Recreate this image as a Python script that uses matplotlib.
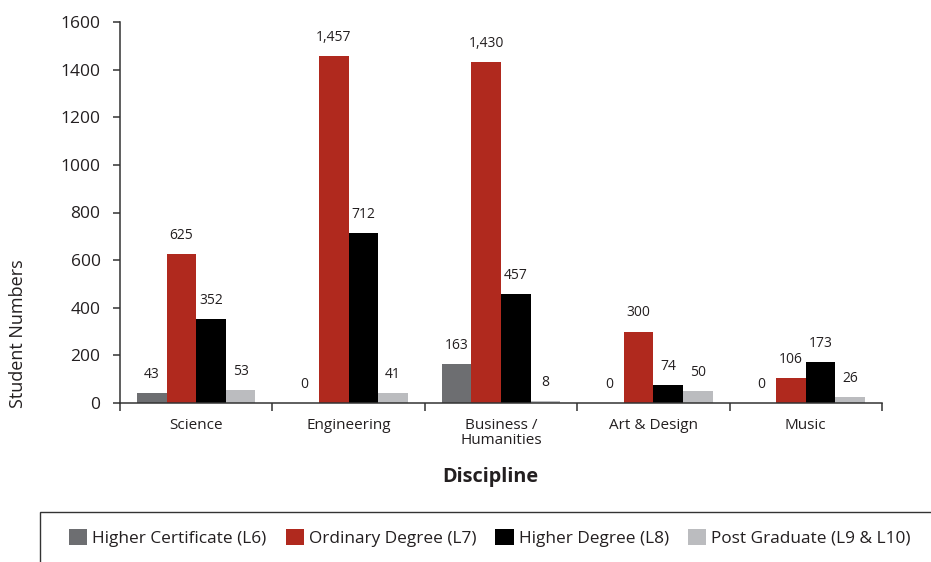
import numpy as np
import matplotlib.pyplot as plt
from matplotlib.patches import Rectangle

plt.rcParams['font.family'] = ['Open Sans', 'DejaVu Sans']

categories = ['Science', 'Engineering', 'Business /\nHumanities', 'Art & Design', 'Music']
series = ['Higher Certificate (L6)', 'Ordinary Degree (L7)', 'Higher Degree (L8)', 'Post Graduate (L9 & L10)']
higher_cert = [43, 0, 163, 0, 0]
ordinary = [625, 1457, 1430, 300, 106]
higher_deg = [352, 712, 457, 74, 173]
post_grad = [53, 41, 8, 50, 26]
colors = ['#6d6e71', '#b0291e', '#000000', '#bbbcbf']
yticks = [0, 200, 400, 600, 800, 1000, 1200, 1400, 1600]

values = [higher_cert, ordinary, higher_deg, post_grad]
axis_col = '#333333'
text_col = '#231f20'

fig = plt.figure(figsize=(9.31, 5.62), dpi=100)
W, H = 931, 562
ax = fig.add_axes([120 / W, (H - 403) / H, (882 - 120) / W, (403 - 22) / H])

x = np.arange(len(categories))
bw = 0.194
for i, (vals, col) in enumerate(zip(values, colors)):
    pos = x + (i - 1.5) * bw
    ax.bar(pos, vals, width=bw, color=col, label=series[i], zorder=2)
    for xb, v in zip(pos, vals):
        ax.annotate(f"{v:,}", (xb, v), xytext=(0, 8), textcoords='offset points',
                    ha='center', va='bottom', fontsize=10, color=text_col)

ax.set_xlim(-0.5, len(categories) - 0.5)
ax.set_ylim(0, 1600)
ax.set_yticks(yticks)
ax.set_yticklabels([str(t) for t in yticks], fontsize=12.5, color=text_col)
ax.tick_params(axis='y', direction='out', length=5, width=1.1, color=axis_col, pad=9)

ax.set_xticks(np.arange(len(categories) + 1) - 0.5)
ax.set_xticklabels([])
ax.tick_params(axis='x', which='major', direction='out', length=6, width=1.1, color=axis_col)
ax.set_xticks(x, minor=True)
ax.set_xticklabels(categories, minor=True, fontsize=11, color=text_col, linespacing=1.0)
ax.tick_params(axis='x', which='minor', length=0, pad=10.5)

for s in ['top', 'right']:
    ax.spines[s].set_visible(False)
for s in ['left', 'bottom']:
    ax.spines[s].set_color(axis_col)
    ax.spines[s].set_linewidth(1.1)

fig.text(18 / W, (H - 334) / H, 'Student Numbers', rotation=90, ha='center', va='center',
         fontsize=13, color=text_col)
fig.text(490 / W, (H - 477) / H, 'Discipline', ha='center', va='center',
         fontsize=14.3, fontweight='bold', color=text_col)

# legend box, cut off at right and bottom
fig.patches.append(Rectangle((40 / W, -0.05), 0.98, (H - 512) / H + 0.05, transform=fig.transFigure,
                             fill=False, edgecolor=axis_col, linewidth=1.0))
handles, labels = ax.get_legend_handles_labels()
fig.legend(handles, labels, loc='center left', bbox_to_anchor=(69 / W, (H - 538) / H), ncol=4,
           frameon=False, fontsize=12.45, handlelength=1.05, handleheight=1.05,
           handletextpad=0.3, columnspacing=1.1, borderpad=0, borderaxespad=0,
           labelcolor=text_col)

fig.savefig('out.png', dpi=100)
